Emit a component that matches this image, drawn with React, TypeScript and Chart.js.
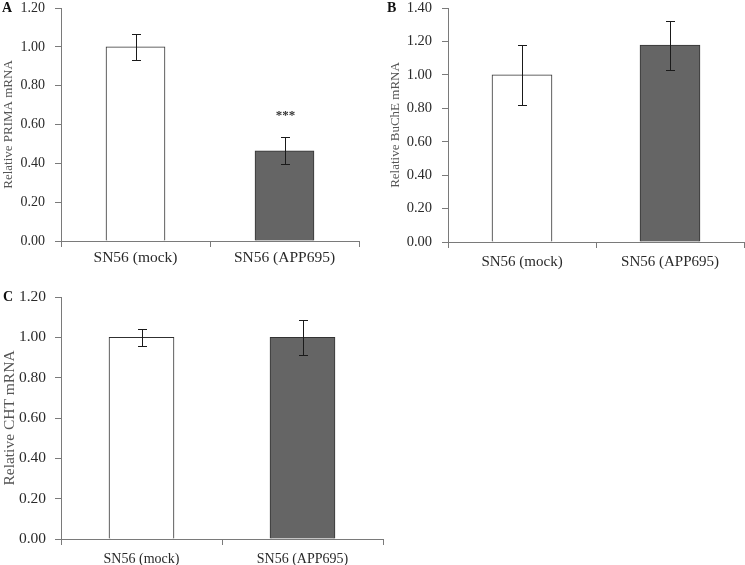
import React, { useEffect, useRef } from "react";
import { Chart, registerables } from "chart.js";

Chart.register(...registerables);

const categories = ["SN56 (mock)", "SN56 (APP695)"];

const primaValues = [1.0, 0.465];
const primaErrors = [0.067, 0.071];
const primaMarks = ["", "***"];

const bucheValues = [1.0, 1.178];
const bucheErrors = [0.178, 0.146];
const bucheMarks = ["", ""];

const chtValues = [1.0, 1.0];
const chtErrors = [0.042, 0.088];
const chtMarks = ["", ""];

const barFills = ["#ffffff", "#656565"];
const barBorders = ["#303030", "#333333"];
const AXIS = "#7a7a7a";
const TEXT = "#2a2a2a";
const FONT = "'Liberation Serif', 'Times New Roman', serif";

const errorBarPlugin = {
  id: "errorBars",
  afterDatasetsDraw(chart: any, _args: any, opts: any) {
    const { ctx } = chart;
    const meta = chart.getDatasetMeta(0);
    const ys = chart.scales.y;
    ctx.save();
    ctx.strokeStyle = "#1a1a1a";
    ctx.lineWidth = 1;
    const cap = 4.5;
    meta.data.forEach((bar: any, i: number) => {
      const v = opts.values[i];
      const e = opts.errors[i];
      const x = Math.round(bar.x) + 0.5;
      const yt = Math.round(ys.getPixelForValue(v + e)) + 0.5;
      const yb = Math.round(ys.getPixelForValue(v - e)) + 0.5;
      ctx.beginPath();
      ctx.moveTo(x, yt);
      ctx.lineTo(x, yb);
      ctx.moveTo(x - cap, yt);
      ctx.lineTo(x + cap, yt);
      ctx.moveTo(x - cap, yb);
      ctx.lineTo(x + cap, yb);
      ctx.stroke();
      if (opts.marks[i]) {
        ctx.fillStyle = "#333333";
        ctx.font = `bold 13px ${FONT}`;
        ctx.textAlign = "center";
        ctx.textBaseline = "middle";
        ctx.fillText(opts.marks[i], x, yt - 22);
      }
    });
    ctx.fillStyle = "#111111";
    ctx.font = `bold 14px ${FONT}`;
    ctx.textAlign = "left";
    ctx.textBaseline = "middle";
    ctx.fillText(opts.letter, opts.letterX, opts.letterY);
    ctx.restore();
  },
};

type PanelProps = {
  values: number[];
  errors: number[];
  marks: string[];
  yMax: number;
  title: string;
  letter: string;
  letterX: number;
  letterY: number;
  left: number;
  top: number;
  width: number;
  height: number;
  axisWidth: number;
  axisHeight: number;
  padTop: number;
  padRight: number;
  yFont: number;
  xFont: number;
  titleFont: number;
  titlePad: number;
  xPad: number;
  yPad: number;
  barThickness: number;
};

function Panel(p: PanelProps) {
  const ref = useRef<HTMLCanvasElement | null>(null);
  useEffect(() => {
    if (!ref.current) return;
    const chart = new Chart(ref.current, {
      type: "bar",
      data: {
        labels: categories,
        datasets: [
          {
            data: p.values,
            backgroundColor: barFills,
            borderColor: barBorders,
            borderWidth: 1,
            barThickness: p.barThickness,
            categoryPercentage: 1,
          },
        ],
      },
      options: {
        animation: false,
        responsive: false,
        maintainAspectRatio: false,
        layout: { padding: { top: p.padTop, right: p.padRight, left: 0, bottom: 0 } },
        plugins: {
          legend: { display: false },
          tooltip: { enabled: false },
          errorBars: {
            values: p.values,
            errors: p.errors,
            marks: p.marks,
            letter: p.letter,
            letterX: p.letterX,
            letterY: p.letterY,
          },
        } as any,
        scales: {
          x: {
            type: "category",
            offset: true,
            grid: {
              display: true,
              drawOnChartArea: false,
              drawTicks: true,
              tickLength: 6,
              color: AXIS,
              offset: true,
            },
            border: { display: true, color: AXIS, width: 1 },
            ticks: {
              color: TEXT,
              padding: p.xPad,
              maxRotation: 0,
              font: { family: FONT, size: p.xFont },
            },
            afterFit: (s: any) => {
              s.height = p.axisHeight;
              s.paddingLeft = 0;
              s.paddingRight = 0;
            },
          },
          y: {
            min: 0,
            max: p.yMax,
            grid: {
              display: true,
              drawOnChartArea: false,
              drawTicks: true,
              tickLength: 6,
              color: AXIS,
            },
            border: { display: true, color: AXIS, width: 1 },
            ticks: {
              stepSize: 0.2,
              color: TEXT,
              padding: p.yPad,
              font: { family: FONT, size: p.yFont },
              callback: (v: any) => Number(v).toFixed(2),
            },
            title: {
              display: true,
              text: p.title,
              color: "#555555",
              font: { family: FONT, size: p.titleFont, weight: "normal" },
              padding: { top: p.titlePad, bottom: 0 },
            },
            afterFit: (s: any) => {
              s.width = p.axisWidth;
              s.paddingTop = 0;
              s.paddingBottom = 0;
            },
          },
        },
      },
      plugins: [errorBarPlugin],
    } as any);
    return () => chart.destroy();
  }, []);
  return (
    <canvas
      ref={ref}
      width={p.width}
      height={p.height}
      style={{ position: "absolute", left: p.left, top: p.top, width: p.width, height: p.height }}
    />
  );
}

export default function App() {
  return (
    <div
      style={{
        position: "fixed",
        left: 0,
        top: 0,
        width: 745,
        height: 565,
        background: "#ffffff",
        overflow: "hidden",
      }}
    >
      <Panel
        values={primaValues}
        errors={primaErrors}
        marks={primaMarks}
        yMax={1.2}
        title="Relative PRIMA mRNA"
        letter="A"
        letterX={2}
        letterY={8}
        left={0}
        top={0}
        width={362}
        height={272}
        axisWidth={61}
        axisHeight={31}
        padTop={8}
        padRight={3}
        yFont={14}
        xFont={15.5}
        titleFont={13}
        titlePad={1}
        xPad={2}
        yPad={10}
        barThickness={59}
      />
      <Panel
        values={bucheValues}
        errors={bucheErrors}
        marks={bucheMarks}
        yMax={1.4}
        title="Relative BuChE mRNA"
        letter="B"
        letterX={7}
        letterY={8}
        left={380}
        top={0}
        width={365}
        height={272}
        axisWidth={68}
        axisHeight={30}
        padTop={8}
        padRight={1}
        yFont={14.5}
        xFont={15}
        titleFont={13}
        titlePad={8}
        xPad={5}
        yPad={10}
        barThickness={60}
      />
      <Panel
        values={chtValues}
        errors={chtErrors}
        marks={chtMarks}
        yMax={1.2}
        title="Relative CHT mRNA"
        letter="C"
        letterX={3}
        letterY={12}
        left={0}
        top={285}
        width={386}
        height={280}
        axisWidth={61}
        axisHeight={26}
        padTop={12}
        padRight={3}
        yFont={15.5}
        xFont={14}
        titleFont={15.5}
        titlePad={1}
        xPad={6}
        yPad={9}
        barThickness={65}
      />
    </div>
  );
}
